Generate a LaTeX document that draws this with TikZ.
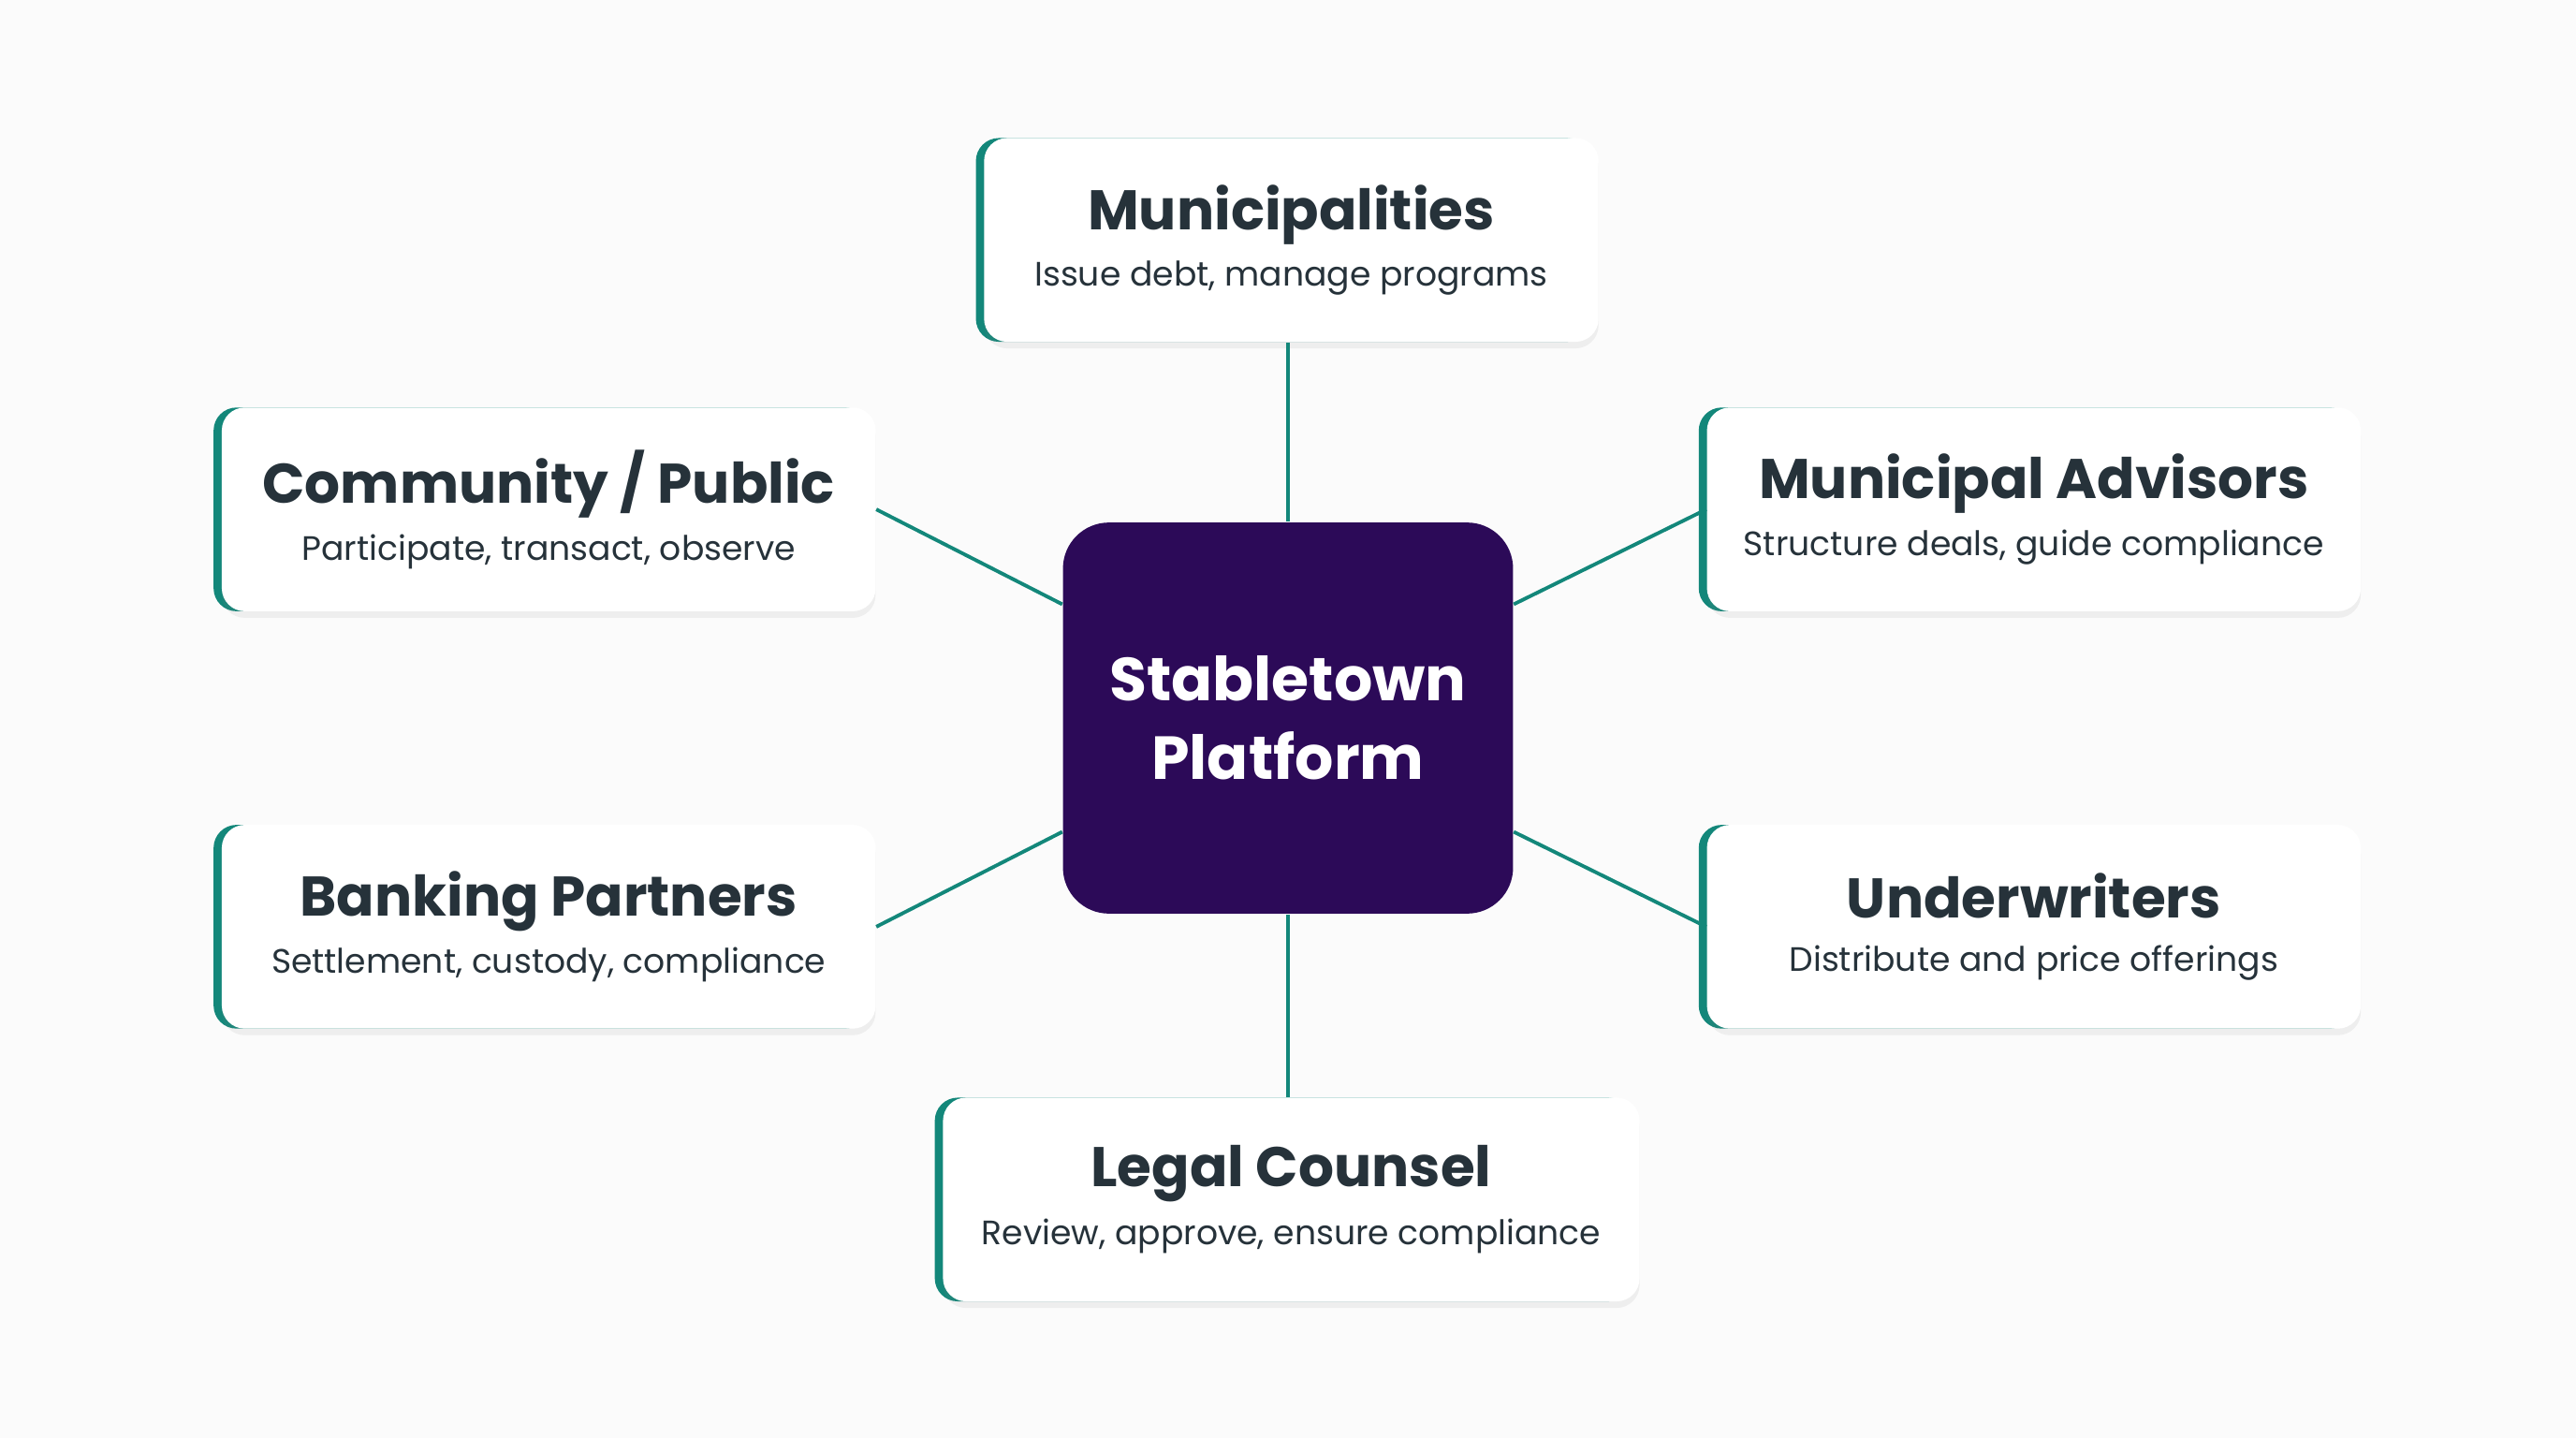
\documentclass[tikz,border=0pt]{standalone}
\usepackage{fontspec}
\setmainfont{Poppins}
\usetikzlibrary{positioning,shadows,calc}
\definecolor{tealc}{HTML}{13877A}
\definecolor{plum}{HTML}{2C0A58}
\definecolor{ink}{HTML}{26323A}
\tikzset{
  card/.style={rounded corners=7pt, fill=white, minimum height=62pt, inner sep=0pt,
    preaction={fill=tealc, transform canvas={xshift=-2.5pt}},
    drop shadow={opacity=0.10, shadow xshift=0pt, shadow yshift=-2pt},
    align=center, text=ink},
  link/.style={draw=tealc, line width=1.1pt},
}
\newcommand{\cardtext}[2]{{\fontsize{17}{21}\selectfont\bfseries #1}\\[4pt]{\fontsize{10.3}{13}\selectfont #2}}
\begin{document}
\begin{tikzpicture}[x=0.5pt,y=-0.5pt]
\path[fill={rgb,255:red,251;green,251;blue,251}] (0,0) rectangle (1568,875);
\useasboundingbox (0,0) rectangle (1568,875);

% Center
\node[rounded corners=14pt, fill=plum, minimum width=137pt, minimum height=119pt, text=white, align=center,
  font=\fontsize{18.5}{24}\selectfont\bfseries] (plat) at (784,437) {Stabletown\\Platform};

% Cards
\node[card, minimum width=187pt] (muni) at (786,146) {\cardtext{Municipalities}{Issue debt, manage programs}};
\node[card, minimum width=199pt] (comm) at (334,310) {\cardtext{Community / Public}{Participate, transact, observe}};
\node[card, minimum width=199pt] (adv) at (1238,310) {\cardtext{Municipal Advisors}{Structure deals, guide compliance}};
\node[card, minimum width=199pt] (bank) at (334,564) {\cardtext{Banking Partners}{Settlement, custody, compliance}};
\node[card, minimum width=199pt] (under) at (1238,564) {\cardtext{Underwriters}{Distribute and price offerings}};
\node[card, minimum width=212pt] (legal) at (786,730) {\cardtext{Legal Counsel}{Review, approve, ensure compliance}};

% Links
\draw[link] (plat.north |- muni.south) -- (plat.north);
\draw[link] (plat.south |- legal.north) -- (plat.south);
\draw[link] (comm.east) -- ($(plat.north west)!0.21!(plat.south west)$);
\draw[link] (adv.west) -- ($(plat.north east)!0.21!(plat.south east)$);
\draw[link] (bank.east) -- ($(plat.north west)!0.79!(plat.south west)$);
\draw[link] (under.west) -- ($(plat.north east)!0.79!(plat.south east)$);
\end{tikzpicture}
\end{document}
